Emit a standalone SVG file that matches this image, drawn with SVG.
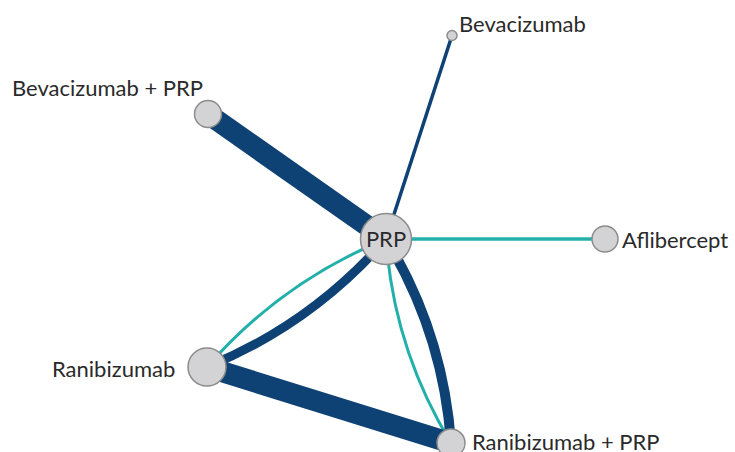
<svg xmlns="http://www.w3.org/2000/svg" width="735" height="452" viewBox="0 0 735 452">
<style>
.e{fill:none;stroke-linecap:butt}
.d{stroke:#0e4174}
.t{stroke:#23b0aa}
.n{fill:#d3d3d6;stroke:#8c8c8c;stroke-width:1.5}
.l{font-family:Lato,"Open Sans","Liberation Sans",sans-serif;font-size:22px;fill:#2a2a2a}
</style>
<rect width="735" height="452" fill="#ffffff"/>
<g id="edges">
<line class="e d" x1="386" y1="239" x2="208" y2="114" stroke-width="21"/>
<line class="e d" x1="386" y1="239" x2="452" y2="35.5" stroke-width="3.5"/>
<line class="e t" x1="386" y1="239" x2="605" y2="239" stroke-width="3.5"/>
<path class="e t" d="M386,239 Q281.4,281.8 207,367" stroke-width="3"/>
<path class="e d" d="M386,239 Q311.6,324.2 207,367" stroke-width="9"/>
<path class="e t" d="M386,239 Q393.7,348.9 451,443" stroke-width="3"/>
<path class="e d" d="M386,239 Q443.3,333.1 451,443" stroke-width="10"/>
<line class="e d" x1="207" y1="367" x2="451" y2="443" stroke-width="21"/>
</g>
<g id="node-bevacizumab">
<circle class="n" cx="452" cy="35.5" r="5"/>
<text class="l" x="459" y="32">Bevacizumab</text>
</g>
<g id="node-bevacizumab-prp">
<circle class="n" cx="208" cy="114" r="13.5"/>
<text class="l" x="12" y="96">Bevacizumab + PRP</text>
</g>
<g id="node-aflibercept">
<circle class="n" cx="605" cy="239" r="13"/>
<text class="l" x="622" y="248">Aflibercept</text>
</g>
<g id="node-ranibizumab">
<circle class="n" cx="207" cy="367" r="19"/>
<text class="l" x="52" y="377">Ranibizumab</text>
</g>
<g id="node-ranibizumab-prp">
<circle class="n" cx="451" cy="443" r="14"/>
<text class="l" x="472" y="450">Ranibizumab + PRP</text>
</g>
<g id="node-prp">
<circle class="n" cx="386" cy="239" r="25.5"/>
<text class="l" x="386" y="247" text-anchor="middle">PRP</text>
</g>
</svg>
